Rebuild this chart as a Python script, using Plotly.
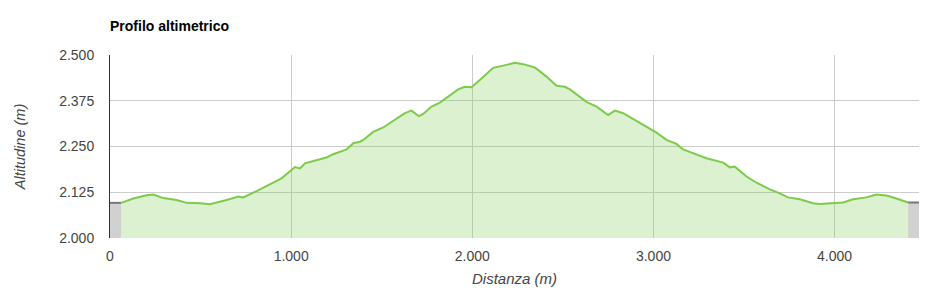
import plotly.graph_objects as go

# Elevation profile (distance in m, altitude in m)
distance = [61, 129, 202, 239, 294, 368, 423, 497, 552, 589, 644, 708, 736, 809, 883, 947,
            1021, 1049, 1076, 1122, 1195, 1232, 1306, 1343, 1380, 1398, 1453, 1508, 1563,
            1628, 1664, 1683, 1705, 1729, 1775, 1821, 1858, 1922, 1959, 1996, 2051, 2115,
            2171, 2235, 2281, 2345, 2410, 2465, 2511, 2539, 2630, 2686, 2750, 2787, 2833,
            2906, 2980, 3017, 3072, 3127, 3164, 3237, 3293, 3385, 3422, 3449, 3514, 3569,
            3642, 3698, 3743, 3808, 3881, 3918, 4001, 4047, 4102, 4176, 4231, 4286, 4341, 4406]
altitude = [2096, 2108, 2117, 2119, 2109, 2104, 2096, 2095, 2092, 2096, 2104, 2113, 2111, 2128,
            2147, 2163, 2194, 2190, 2204, 2211, 2220, 2229, 2242, 2259, 2263, 2268, 2290,
            2302, 2320, 2341, 2348, 2342, 2333, 2339, 2359, 2370, 2384, 2406, 2413, 2412,
            2436, 2465, 2471, 2479, 2475, 2466, 2441, 2416, 2413, 2406, 2372, 2359, 2336,
            2348, 2341, 2320, 2300, 2288, 2268, 2257, 2242, 2229, 2218, 2206, 2193, 2195,
            2168, 2151, 2133, 2122, 2111, 2106, 2095, 2093, 2096, 2097, 2106, 2111, 2119,
            2116, 2108, 2097]

# Grey out-of-track zones at both ends
start_zone_x = [0, 61]
start_zone_y = [2096, 2096]
end_zone_x = [4406, 4466]
end_zone_y = [2097, 2097]

x_ticks = [0, 1000, 2000, 3000, 4000]
y_ticks = [2000, 2125, 2250, 2375, 2500]

fig = go.Figure()
fig.add_trace(go.Scatter(x=start_zone_x, y=start_zone_y, mode="lines", fill="tozeroy",
                         line=dict(color="#777777", width=2), fillcolor="rgba(190,190,190,0.7)",
                         hoverinfo="skip", showlegend=False))
fig.add_trace(go.Scatter(x=end_zone_x, y=end_zone_y, mode="lines", fill="tozeroy",
                         line=dict(color="#777777", width=2), fillcolor="rgba(190,190,190,0.7)",
                         hoverinfo="skip", showlegend=False))
fig.add_trace(go.Scatter(x=distance, y=altitude, mode="lines", fill="tozeroy",
                         line=dict(color="#7ccb4a", width=2),
                         fillcolor="rgba(124,204,76,0.27)", showlegend=False))

fig.update_layout(
    width=931, height=292,
    margin=dict(l=110, r=12, t=55, b=54),
    paper_bgcolor="white", plot_bgcolor="white",
    separators=",.",
    font=dict(family="Arial, Liberation Sans, sans-serif", size=13, color="#444"),
    title=dict(text="<b>Profilo altimetrico</b>", x=110/931, xanchor="left", xref="container",
               y=1-26/292, yanchor="middle", yref="container",
               font=dict(size=14, color="#000")),
    xaxis=dict(range=[0, 4466], tickvals=x_ticks, tickformat=",d", automargin=False,
               showgrid=True, gridcolor="#cccccc", gridwidth=1, zeroline=False,
               showline=False, ticks="", ticklabelstandoff=8,
               tickfont=dict(size=14, color="#444"),
               title=dict(text="<i>Distanza (m)</i>", font=dict(size=15, color="#444"), standoff=10)),
    yaxis=dict(range=[2000, 2500], tickvals=y_ticks, tickformat=",d", automargin=False,
               showgrid=True, gridcolor="#cccccc", gridwidth=1, zeroline=False,
               showline=True, linecolor="#333", linewidth=1, ticks="", ticklabelstandoff=12,
               tickfont=dict(size=14, color="#444"),
               title=dict(text="<i>Altitudine (m)</i>", font=dict(size=14.5, color="#444"), standoff=30)),
)

fig.write_html("out.html")
